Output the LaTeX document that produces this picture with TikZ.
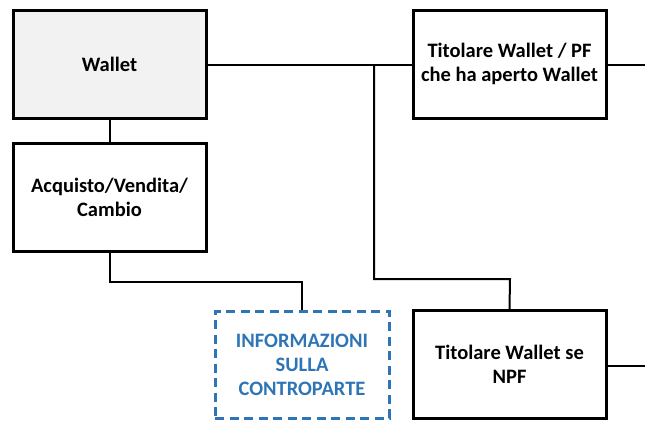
\documentclass[tikz,border=0pt]{standalone}
\usepackage{fontspec}
\setmainfont{Carlito}
\usetikzlibrary{positioning}
\usetikzlibrary{calc}
\definecolor{infoblue}{HTML}{2E75B6}
\definecolor{walletgray}{HTML}{F2F2F2}
\begin{document}
\begin{tikzpicture}[x=1pt,y=-1pt]
		\tikzset{box/.style = {shape=rectangle, line width=3pt, draw, align=center, minimum width=193pt, minimum height=108pt, inner sep=0pt, font=\fontsize{20.5}{24}\selectfont\bfseries}}
		\tikzset{infobox/.style = {box, draw=infoblue, text=infoblue, dashed, dash pattern=on 9pt off 5.5pt, minimum width=174pt, minimum height=107pt}}
		\tikzset{link/.style = {line width=2pt}}
		\useasboundingbox (0,0) rectangle (645,421);
		\node[box, fill=walletgray] (WALLET) at (109.5,64) {Wallet};
		\node[box] (ACQ) at (109.5,197) {Acquisto/Vendita/\\Cambio};
		\node[infobox] (INFO) at (302,364.5) {INFORMAZIONI\\SULLA\\CONTROPARTE};
		\node[box] (PF) at (509.5,64) {Titolare Wallet / PF\\che ha aperto Wallet};
		\node[box] (NPF) at (509.5,364.5) {Titolare Wallet se\\NPF};
		
		\coordinate (SPLIT) at (374,65);
		\coordinate (PFOUT) at (645,65);
		\coordinate (NPFOUT) at (645,366);
		
		\draw[link] (WALLET) -- (ACQ);
		\draw[link] (WALLET.east |- SPLIT) -- (SPLIT) -- (PF.west |- SPLIT);
		\draw[link] (PF.east |- PFOUT) -- (PFOUT);
		\draw[link] (ACQ.south) |- (302,282) -- (INFO.north);
		\draw[link] (SPLIT) |- (510,279) -- (NPF.north);
		\draw[link] (NPF.east |- NPFOUT) -- (NPFOUT);
		
		\end{tikzpicture}
\end{document}
